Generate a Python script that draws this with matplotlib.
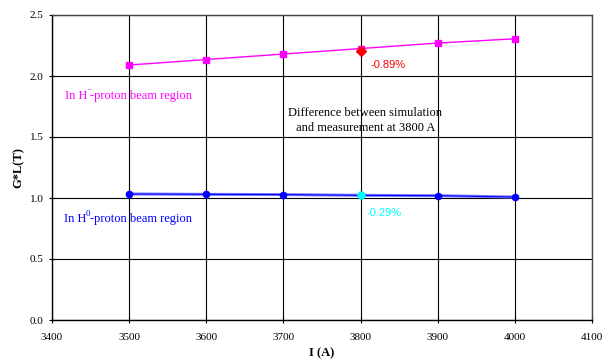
import matplotlib
matplotlib.use("Agg")
import matplotlib.pyplot as plt

current = [3500, 3600, 3700, 3800, 3900, 4000]
gl_hminus = [2.09, 2.135, 2.18, 2.225, 2.27, 2.305]
gl_hzero = [1.033, 1.030, 1.028, 1.022, 1.019, 1.008]
meas_x = [3800]
meas_hminus = [2.205]
meas_hzero = [1.022]

plt.rcParams['font.family'] = ['Liberation Serif', 'DejaVu Serif']

fig = plt.figure(figsize=(6.02, 3.61), dpi=100)
ax = fig.add_axes([52/602, 41/361, 540/602, 305/361])

ax.plot(current, gl_hminus, color='#ff00ff', marker='s', markersize=4.5, linewidth=1, zorder=3)
ax.plot(meas_x, meas_hminus, color='#ff0000', marker='D', markersize=5, linestyle='none', zorder=4)
ax.plot(current, gl_hzero, color='#8080ff', linewidth=2.2, zorder=2)
ax.plot(current, gl_hzero, color='#0000ff', marker='o', markersize=4.5, linewidth=0.8, zorder=3)
ax.plot(meas_x, meas_hzero, color='#00ffff', marker='o', markersize=5, linestyle='none', zorder=4)

ax.set_xlim(3400, 4100)
ax.set_ylim(0, 2.5)
ax.set_xticks(range(3400, 4101, 100))
ax.set_yticks([0, 0.5, 1.0, 1.5, 2.0, 2.5])
ax.set_yticklabels(['0.0', '0.5', '1.0', '1.5', '2.0', '2.5'])
ax.grid(True, color='black', linewidth=0.8)
ax.set_axisbelow(True)
for s in ax.spines.values():
    s.set_color('#444444')
    s.set_linewidth(1)
ax.spines['left'].set_color('black')
ax.spines['bottom'].set_color('black')
ax.tick_params(direction='inout', length=5, labelsize=8, width=0.8)
ax.tick_params(axis='x', pad=7)

ax.set_xlabel('I (A)', fontsize=9, fontweight='bold', labelpad=4)
ax.set_ylabel('G*L(T)', fontsize=9, fontweight='bold', labelpad=4)


def label_with_sup(x, y, base, sup, rest, color):
    t1 = ax.text(x, y, base, color=color, fontsize=9, va='center', ha='left')
    s = ax.annotate(sup, xy=(1, 0.6), xycoords=t1, color=color, fontsize=6.5,
                    va='bottom', ha='left')
    ax.annotate(rest, xy=(1, 0), xycoords=(s, t1), color=color, fontsize=9,
                va='bottom', ha='left')


label_with_sup(3417, 1.84, 'In H', '-', '-proton beam region', '#ff00ff')
label_with_sup(3415, 0.83, 'In H', '0', '-proton beam region', '#0000ff')
ax.text(3806, 1.70, 'Difference between simulation', fontsize=9, ha='center', va='center')
ax.text(3806, 1.575, 'and measurement at 3800 A', fontsize=9, ha='center', va='center')
ax.text(3813, 2.09, '-0.89%', color='#ff0000', fontsize=8, family=['Liberation Sans', 'DejaVu Sans'], va='center')
ax.text(3808, 0.88, '-0.29%', color='#00ffff', fontsize=8, family=['Liberation Sans', 'DejaVu Sans'], va='center')

fig.savefig('out.png', dpi=100)
